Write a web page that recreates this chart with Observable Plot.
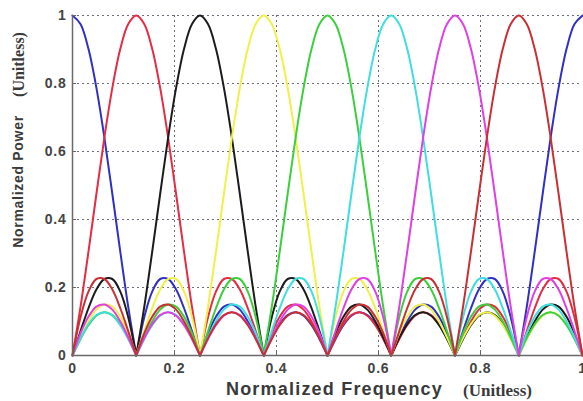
<!DOCTYPE html>
<html>
<head>
<meta charset="utf-8">
<script src="https://cdn.jsdelivr.net/npm/d3@7"></script>
<script src="https://cdn.jsdelivr.net/npm/@observablehq/plot@0.6"></script>
<style>
  html, body { margin: 0; padding: 0; background: #fff; }
  #chart { width: 583px; height: 401px; overflow: hidden; }
</style>
</head>
<body>
<div id="chart"></div>
<script>
// Normalized frequency sample grid
const freq = [
  0, 0.015625, 0.03125, 0.046875, 0.0625, 0.078125, 0.09375, 0.109375,
  0.125, 0.140625, 0.15625, 0.171875, 0.1875, 0.203125, 0.21875, 0.234375,
  0.25, 0.265625, 0.28125, 0.296875, 0.3125, 0.328125, 0.34375, 0.359375,
  0.375, 0.390625, 0.40625, 0.421875, 0.4375, 0.453125, 0.46875, 0.484375,
  0.5, 0.515625, 0.53125, 0.546875, 0.5625, 0.578125, 0.59375, 0.609375,
  0.625, 0.640625, 0.65625, 0.671875, 0.6875, 0.703125, 0.71875, 0.734375,
  0.75, 0.765625, 0.78125, 0.796875, 0.8125, 0.828125, 0.84375, 0.859375,
  0.875, 0.890625, 0.90625, 0.921875, 0.9375, 0.953125, 0.96875, 0.984375,
  1
];

// Normalized power of each channel
const powerBlue = [
  1, 0.975, 0.902, 0.787, 0.641, 0.475, 0.305, 0.142,
  0, 0.112, 0.188, 0.225, 0.225, 0.194, 0.139, 0.071,
  0, 0.065, 0.114, 0.144, 0.15, 0.135, 0.1, 0.053,
  0, 0.051, 0.092, 0.119, 0.127, 0.117, 0.089, 0.048,
  0, 0.048, 0.089, 0.117, 0.127, 0.119, 0.092, 0.051,
  0, 0.053, 0.1, 0.135, 0.15, 0.144, 0.114, 0.065,
  0, 0.071, 0.139, 0.194, 0.225, 0.225, 0.188, 0.112,
  0, 0.142, 0.305, 0.475, 0.641, 0.787, 0.902, 0.975,
  1
];
const powerRed = [
  0, 0.142, 0.305, 0.475, 0.641, 0.787, 0.902, 0.975,
  1, 0.975, 0.902, 0.787, 0.641, 0.475, 0.305, 0.142,
  0, 0.112, 0.188, 0.225, 0.225, 0.194, 0.139, 0.071,
  0, 0.065, 0.114, 0.144, 0.15, 0.135, 0.1, 0.053,
  0, 0.051, 0.092, 0.119, 0.127, 0.117, 0.089, 0.048,
  0, 0.048, 0.089, 0.117, 0.127, 0.119, 0.092, 0.051,
  0, 0.053, 0.1, 0.135, 0.15, 0.144, 0.114, 0.065,
  0, 0.071, 0.139, 0.194, 0.225, 0.225, 0.188, 0.112,
  0
];
const powerBlack = [
  0, 0.071, 0.139, 0.194, 0.225, 0.225, 0.188, 0.112,
  0, 0.142, 0.305, 0.475, 0.641, 0.787, 0.902, 0.975,
  1, 0.975, 0.902, 0.787, 0.641, 0.475, 0.305, 0.142,
  0, 0.112, 0.188, 0.225, 0.225, 0.194, 0.139, 0.071,
  0, 0.065, 0.114, 0.144, 0.15, 0.135, 0.1, 0.053,
  0, 0.051, 0.092, 0.119, 0.127, 0.117, 0.089, 0.048,
  0, 0.048, 0.089, 0.117, 0.127, 0.119, 0.092, 0.051,
  0, 0.053, 0.1, 0.135, 0.15, 0.144, 0.114, 0.065,
  0
];
const powerYellow = [
  0, 0.053, 0.1, 0.135, 0.15, 0.144, 0.114, 0.065,
  0, 0.071, 0.139, 0.194, 0.225, 0.225, 0.188, 0.112,
  0, 0.142, 0.305, 0.475, 0.641, 0.787, 0.902, 0.975,
  1, 0.975, 0.902, 0.787, 0.641, 0.475, 0.305, 0.142,
  0, 0.112, 0.188, 0.225, 0.225, 0.194, 0.139, 0.071,
  0, 0.065, 0.114, 0.144, 0.15, 0.135, 0.1, 0.053,
  0, 0.051, 0.092, 0.119, 0.127, 0.117, 0.089, 0.048,
  0, 0.048, 0.089, 0.117, 0.127, 0.119, 0.092, 0.051,
  0
];
const powerGreen = [
  0, 0.048, 0.089, 0.117, 0.127, 0.119, 0.092, 0.051,
  0, 0.053, 0.1, 0.135, 0.15, 0.144, 0.114, 0.065,
  0, 0.071, 0.139, 0.194, 0.225, 0.225, 0.188, 0.112,
  0, 0.142, 0.305, 0.475, 0.641, 0.787, 0.902, 0.975,
  1, 0.975, 0.902, 0.787, 0.641, 0.475, 0.305, 0.142,
  0, 0.112, 0.188, 0.225, 0.225, 0.194, 0.139, 0.071,
  0, 0.065, 0.114, 0.144, 0.15, 0.135, 0.1, 0.053,
  0, 0.051, 0.092, 0.119, 0.127, 0.117, 0.089, 0.048,
  0
];
const powerCyan = [
  0, 0.051, 0.092, 0.119, 0.127, 0.117, 0.089, 0.048,
  0, 0.048, 0.089, 0.117, 0.127, 0.119, 0.092, 0.051,
  0, 0.053, 0.1, 0.135, 0.15, 0.144, 0.114, 0.065,
  0, 0.071, 0.139, 0.194, 0.225, 0.225, 0.188, 0.112,
  0, 0.142, 0.305, 0.475, 0.641, 0.787, 0.902, 0.975,
  1, 0.975, 0.902, 0.787, 0.641, 0.475, 0.305, 0.142,
  0, 0.112, 0.188, 0.225, 0.225, 0.194, 0.139, 0.071,
  0, 0.065, 0.114, 0.144, 0.15, 0.135, 0.1, 0.053,
  0
];
const powerMagenta = [
  0, 0.065, 0.114, 0.144, 0.15, 0.135, 0.1, 0.053,
  0, 0.051, 0.092, 0.119, 0.127, 0.117, 0.089, 0.048,
  0, 0.048, 0.089, 0.117, 0.127, 0.119, 0.092, 0.051,
  0, 0.053, 0.1, 0.135, 0.15, 0.144, 0.114, 0.065,
  0, 0.071, 0.139, 0.194, 0.225, 0.225, 0.188, 0.112,
  0, 0.142, 0.305, 0.475, 0.641, 0.787, 0.902, 0.975,
  1, 0.975, 0.902, 0.787, 0.641, 0.475, 0.305, 0.142,
  0, 0.112, 0.188, 0.225, 0.225, 0.194, 0.139, 0.071,
  0
];
const powerDarkRed = [
  0, 0.112, 0.188, 0.225, 0.225, 0.194, 0.139, 0.071,
  0, 0.065, 0.114, 0.144, 0.15, 0.135, 0.1, 0.053,
  0, 0.051, 0.092, 0.119, 0.127, 0.117, 0.089, 0.048,
  0, 0.048, 0.089, 0.117, 0.127, 0.119, 0.092, 0.051,
  0, 0.053, 0.1, 0.135, 0.15, 0.144, 0.114, 0.065,
  0, 0.071, 0.139, 0.194, 0.225, 0.225, 0.188, 0.112,
  0, 0.142, 0.305, 0.475, 0.641, 0.787, 0.902, 0.975,
  1, 0.975, 0.902, 0.787, 0.641, 0.475, 0.305, 0.142,
  0
];

const seriesNames = ["ch1", "ch2", "ch3", "ch4", "ch5", "ch6", "ch7", "ch8"];
const seriesValues = [powerBlue, powerRed, powerBlack, powerYellow, powerGreen, powerCyan, powerMagenta, powerDarkRed];
const xTicks = [0, 0.2, 0.4, 0.6, 0.8, 1];
const yTicks = [0, 0.2, 0.4, 0.6, 0.8, 1];
const xLabel = "Normalized Frequency";
const yLabel = "Normalized Power";
const unitLabel = "(Unitless)";

// styles
const seriesColors = ["#3030c4", "#e42c44", "#1c1c1c", "#f0f04a", "#3ccf3c", "#40dede", "#de40e4", "#c83034"];

// build table: split each curve into lobes at its zeros (sharp nulls)
const rows = [];
seriesNames.forEach((name, i) => {
  const vals = seriesValues[i];
  let seg = 0;
  vals.forEach((v, j) => {
    rows.push({f: freq[j], p: v, name, seg: name + "-" + seg});
    if (v === 0 && j > 0 && j < vals.length - 1) {
      seg++;
      rows.push({f: freq[j], p: v, name, seg: name + "-" + seg});
    }
  });
});

const fmt = d => String(d);
const gridStyle = {stroke: "#6c6c7c", strokeOpacity: 1, strokeWidth: 1, strokeDasharray: "2,3"};
const tickText = {tickSize: 0, fontSize: 14, fontWeight: "bold", fill: "#444", label: null, tickFormat: fmt};

const chart = Plot.plot({
  width: 583,
  height: 401,
  marginLeft: 72,
  marginRight: 1,
  marginTop: 15,
  marginBottom: 46,
  style: {fontFamily: "'Liberation Sans', Arial, sans-serif", background: "#fff"},
  x: {domain: [0, 1]},
  y: {domain: [0, 1]},
  color: {type: "ordinal", domain: seriesNames, range: seriesColors},
  marks: [
    Plot.gridX(xTicks.filter(t => t > 0 && t < 1), gridStyle),
    Plot.gridY(yTicks.filter(t => t > 0), gridStyle),
    Plot.line(rows, {x: "f", y: "p", z: "seg", stroke: "name", strokeWidth: 2, curve: "catmull-rom"}),
    // small inward tick marks (MATLAB style)
    Plot.ruleX(xTicks.filter(t => t > 0 && t < 1), {x: d => d, y1: 0, y2: 0.012, stroke: "#666", strokeWidth: 1}),
    Plot.ruleY(yTicks.filter(t => t > 0), {y: d => d, x1: 0, x2: 0.008, stroke: "#666", strokeWidth: 1}),
    Plot.ruleX([0], {stroke: "#6a6a6a", strokeWidth: 1.5}),
    Plot.ruleY([0], {stroke: "#6a6a6a", strokeWidth: 1.5}),
    Plot.axisX(xTicks, {...tickText, tickPadding: 8}),
    Plot.axisY(yTicks, {...tickText, tickPadding: 6}),
    Plot.text([xLabel], {text: d => d, frameAnchor: "bottom", dx: 7, dy: 34, lineAnchor: "middle", textAnchor: "middle",
      fontSize: 18, fontWeight: "bold", fill: "#3a3a3a"}),
    Plot.text([unitLabel], {text: d => d, frameAnchor: "bottom", dx: 170, dy: 35, lineAnchor: "middle", textAnchor: "middle",
      fontSize: 17, fontWeight: "bold", fill: "#3a3a3a", fontFamily: "'Liberation Serif', 'Times New Roman', serif"}),
    Plot.text([yLabel], {text: d => d, frameAnchor: "left", dx: -54, dy: -4, rotate: -90, lineAnchor: "middle", textAnchor: "middle",
      fontSize: 14, fontWeight: "bold", fill: "#3a3a3a"}),
    Plot.text([unitLabel], {text: d => d, frameAnchor: "left", dx: -54, dy: -121, rotate: -90, lineAnchor: "middle", textAnchor: "middle",
      fontSize: 16, fontWeight: "bold", fill: "#3a3a3a", fontFamily: "'Liberation Serif', 'Times New Roman', serif"})
  ]
});

const tickLabels = new Set(xTicks.concat(yTicks).map(fmt));
d3.select(chart).selectAll("text")
  .filter(function() { return this.textContent === xLabel; })
  .attr("letter-spacing", "1.2px");
d3.select(chart).selectAll("text")
  .filter(function() { return this.textContent === yLabel; })
  .attr("letter-spacing", "0.7px");
d3.select(chart).selectAll("text")
  .filter(function() { return tickLabels.has(this.textContent); })
  .attr("letter-spacing", "0.8px");

document.getElementById("chart").appendChild(chart);
</script>
</body>
</html>
